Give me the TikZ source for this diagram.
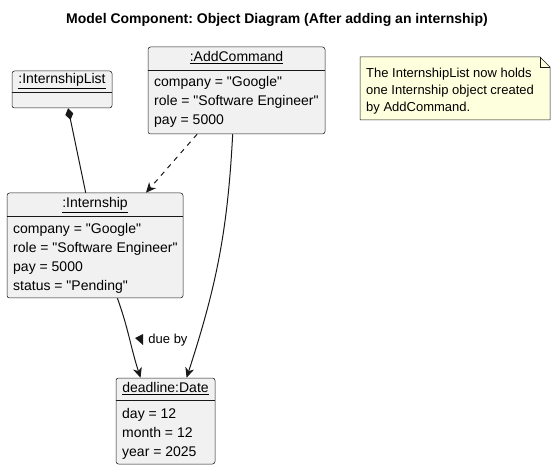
\documentclass[tikz,border=0pt]{standalone}
\usepackage{fontspec}
\setmainfont{Liberation Sans}
\usetikzlibrary{arrows.meta,positioning}

\definecolor{umlline}{HTML}{181818}
\definecolor{objfill}{HTML}{F1F1F1}
\definecolor{notefill}{HTML}{FEFFDD}

\newcommand{\q}{\textquotedbl}

\tikzset{
  objbox/.style={draw=umlline, fill=objfill, line width=0.5pt, rounded corners=2.5pt, inner sep=0pt},
  sepline/.style={draw=umlline, line width=0.5pt},
  txt/.style={inner sep=0pt, text height=10pt, text depth=3pt},
  attr/.style={txt, anchor=west},
  notebox/.style={draw=umlline, fill=notefill, line width=0.5pt},
  umlarrow/.style={-{Stealth[length=10pt,width=9pt,inset=3pt]}, line width=1pt, draw=umlline},
}

\begin{document}
\frenchspacing
\begin{tikzpicture}[x=1pt,y=-1pt,font=\fontsize{14}{16}\selectfont]

\useasboundingbox (0,0) rectangle (554,470);

% ========================
% TITLE
% ========================

\node[txt, font=\fontsize{14}{16}\selectfont\bfseries] (title) at (277,20) {Model Component: Object Diagram (After adding an internship)};

% ========================
% OBJECT BOXES
% ========================

% :InternshipList
\node[objbox, minimum width=100pt, minimum height=37pt] (list) at (62,89.5) {};
\node[txt] (listname) at (62,80) {\underline{:InternshipList}};
\draw[sepline] (list.west |- 0,92) -- (list.east |- 0,92);

% :AddCommand
\node[objbox, minimum width=177pt, minimum height=87pt] (addcmd) at (236.5,90.5) {};
\node[txt] (addname) at (236.5,58) {\underline{:AddCommand}};
\draw[sepline] (addcmd.west |- 0,70) -- (addcmd.east |- 0,70);
\node[attr] at (154,83) {company = \q Google\q};
\node[attr] at (154,102) {role = \q Software Engineer\q};
\node[attr] at (154,121) {pay = 5000};

% :Internship
\node[objbox, minimum width=176pt, minimum height=105pt] (intern) at (95,245.5) {};
\node[txt] (internname) at (95,204) {\underline{:Internship}};
\draw[sepline] (intern.west |- 0,216) -- (intern.east |- 0,216);
\node[attr] at (13,230) {company = \q Google\q};
\node[attr] at (13,249) {role = \q Software Engineer\q};
\node[attr] at (13,268) {pay = 5000};
\node[attr] at (13,287) {status = \q Pending\q};

% deadline:Date
\node[objbox, minimum width=99pt, minimum height=86pt] (date) at (165.5,421) {};
\node[txt] (datename) at (165.5,389) {\underline{deadline:Date}};
\draw[sepline] (date.west |- 0,400) -- (date.east |- 0,400);
\node[attr] at (122,415) {day = 12};
\node[attr] at (122,434) {month = 12};
\node[attr] at (122,453) {year = 2025};

% ========================
% NOTE
% ========================

\draw[notebox] (360,57) -- (540,57) -- (550,67) -- (550,120) -- (360,120) -- cycle;
\draw[sepline] (540,57) -- (540,67) -- (550,67);
\node[attr, font=\fontsize{13}{15}\selectfont] (note1) at (366,74) {The InternshipList now holds};
\node[attr, font=\fontsize{13}{15}\selectfont] (note2) at (366,91) {one Internship object created};
\node[attr, font=\fontsize{13}{15}\selectfont] (note3) at (366,108) {by AddCommand.};

% ========================
% LINKS
% ========================

% composition
\draw[{Diamond[length=12pt,width=8pt]}-, line width=1pt, draw=umlline] (list.288) -- (intern.100);

% created by AddCommand
\draw[umlarrow, dashed, dash pattern=on 5pt off 5pt] (addcmd.228) -- (intern.46);

% due by
\draw[umlarrow] (intern.293) to[out=-70, in=108] (date.120);
\node[txt, font=\fontsize{13}{15}\selectfont] (duelabel) at (168,340) {due by};
\fill[umlline] (143,334) -- (143,345) -- (135,338) -- cycle;

% AddCommand to deadline
\draw[umlarrow] (addcmd.265) to[out=-93, in=72] (date.64);

\end{tikzpicture}
\end{document}
